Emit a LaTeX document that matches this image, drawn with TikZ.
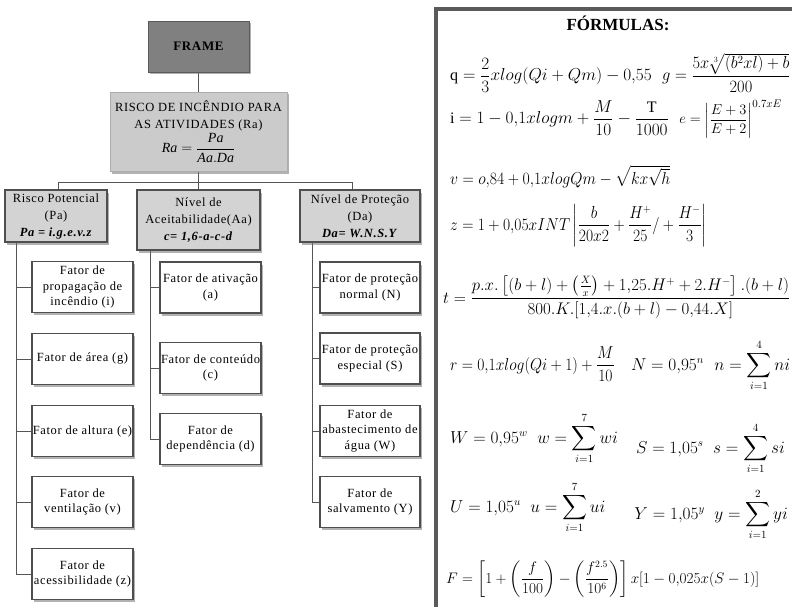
\documentclass[tikz,border=0pt]{standalone}
\usepackage{amsmath}
\usepackage{graphicx}
\usepackage{fontspec}
\setmainfont{Liberation Serif}
\newfontfamily\dfont{Liberation Serif}[LetterSpace=5]
\usetikzlibrary{shadows}
\pgfdeclarelayer{background}
\pgfsetlayers{background,main}
\definecolor{framefill}{HTML}{808080}
\definecolor{topfill}{HTML}{CBCBCB}
\definecolor{lvlfill}{HTML}{D3D3D3}
\definecolor{edgegray}{HTML}{4F4F4F}
\definecolor{linegray}{HTML}{555555}
\definecolor{boxgray}{HTML}{5A5A5A}
\tikzset{
  shad/.style={drop shadow={shadow xshift=2pt, shadow yshift=-2.5pt, fill=black!55, opacity=0.55}},
  framebox/.style={shad, fill=framefill, draw=framefill!70!black, line width=0.6pt, minimum width=101pt, minimum height=51pt, inner sep=0pt, font=\dfont\fontsize{13}{15}\selectfont\bfseries},
  topbox/.style={shad, fill=topfill, draw=topfill!85!black, line width=0.6pt, minimum width=177pt, minimum height=79pt, inner sep=0pt, align=center, font=\dfont\fontsize{12.5}{17.5}\selectfont},
  lvlbox/.style={shad, fill=lvlfill, draw=edgegray, line width=1.1pt, inner sep=0pt, align=center, font=\dfont\fontsize{12.5}{17}\selectfont},
  leafbox/.style={shad, fill=white, draw=edgegray, line width=1.1pt, minimum height=51pt, inner sep=0pt, align=center, font=\dfont\fontsize{12.5}{15.5}\selectfont},
  conn/.style={draw=linegray, line width=0.9pt},
  fm/.style={inner sep=0pt, anchor=base west, font=\fontsize{16}{19}\selectfont},
}
\begin{document}
\begin{tikzpicture}[x=1pt,y=-1pt]
\useasboundingbox (0,0) rectangle (792,607);

% ---- left tree ----
\node[framebox] (frame) at (198.5,46.5) {FRAME};
\node[topbox] (risco) at (198.5,131.5) {RISCO DE INCÊNDIO PARA\\AS ATIVIDADES (Ra)\\[1pt]{\fontsize{14}{16}\selectfont$\mathit{Ra} = \dfrac{\mathit{Pa}}{\mathit{Aa.Da}}$}};

\node[lvlbox, minimum width=102pt, minimum height=52pt] (pa) at (56,216) {Risco Potencial\\(Pa)\\\textbf{\textit{Pa = i.g.e.v.z}}};
\node[lvlbox, minimum width=123pt, minimum height=60pt] (aa) at (198.5,220) {Nível de\\Aceitabilidade(Aa)\\\textbf{\textit{c= 1,6-a-c-d}}};
\node[lvlbox, minimum width=120pt, minimum height=52pt] (da) at (360,216) {Nível de Proteção\\(Da)\\\textbf{\textit{Da= W.N.S.Y}}};

\node[leafbox, minimum width=101pt] (li) at (82.5,287) {Fator de\\propagação de\\incêndio (i)};
\node[leafbox, minimum width=101pt] (lg) at (82.5,359) {Fator de área (g)};
\node[leafbox, minimum width=101pt] (le) at (82.5,431) {Fator de altura (e)};
\node[leafbox, minimum width=101pt] (lv) at (82.5,502) {Fator de\\ventilação (v)};
\node[leafbox, minimum width=101pt] (lz) at (82.5,574) {Fator de\\acessibilidade (z)};

\node[leafbox, minimum width=101pt] (ma) at (210.5,287.5) {Fator de ativação\\(a)};
\node[leafbox, minimum width=101pt] (mc) at (210.5,368) {Fator de conteúdo\\(c)};
\node[leafbox, minimum width=101pt] (md) at (210.5,439) {Fator de\\dependência (d)};

\node[leafbox, minimum width=100pt] (rn) at (370,287.5) {Fator de proteção\\normal (N)};
\node[leafbox, minimum width=100pt] (rs) at (370,358.5) {Fator de proteção\\especial (S)};
\node[leafbox, minimum width=100pt] (rw) at (370,431) {Fator de\\abastecimento de\\água (W)};
\node[leafbox, minimum width=100pt] (ry) at (370,502) {Fator de\\salvamento (Y)};

\coordinate (hl) at (58,182);
\coordinate (hr) at (352,182);
\coordinate (tl) at (16,0);
\coordinate (tm) at (150,0);
\coordinate (tr) at (312,0);

\begin{pgfonlayer}{background}
\fill[white] (0,0) rectangle (792,607);
\draw[conn] (frame) -- (risco);
\draw[conn] (risco.south) -- (aa.north);
\draw[conn] (hl) -- (hr);
\draw[conn] (hl) -- (hl |- pa.north);
\draw[conn] (hr) -- (hr |- da.north);
\foreach \n in {li,lg,le,lv,lz} \draw[conn] (pa.south -| tl) |- (\n.west);
\foreach \n in {ma,mc,md} \draw[conn] (aa.south -| tm) |- (\n.west);
\foreach \n in {rn,rs,rw,ry} \draw[conn] (da.south -| tr) |- (\n.west);
\end{pgfonlayer}

% ---- formulas panel ----
\draw[draw=boxgray, line width=3.5pt] (436,9) rectangle (812,625);
\node[font=\fontsize{17}{19}\selectfont\bfseries] (title) at (618,23) {FÓRMULAS:};

\node[fm] (fq) at (450,81) {$\mathrm{q} = \dfrac{2}{3}xlog(Qi+Qm) - 0{,}55$};
\node[fm] (fg) at ([xshift=10pt]fq.base east) {\scalebox{0.95}[1]{$g = \dfrac{5x\sqrt[3]{(b^2xl)+b}}{200}$}};
\node[fm] (fi) at (450,124) {$\mathrm{i} = 1 - 0{,}1xlogm + \dfrac{M}{10} - \dfrac{\mathrm{T}}{1000}$};
\node[fm, font=\fontsize{15}{18}\selectfont] (fe) at ([xshift=10pt]fi.base east) {$e = \left|\dfrac{E+3}{E+2}\right|^{0.7xE}$};
\node[fm] (fv) at (450,184) {\scalebox{0.91}[1]{$v = o{,}84 + 0{,}1xlogQm - \sqrt{kx\sqrt{h}}$}};
\node[fm] (fz) at (450,230) {\scalebox{0.9}[1]{$z = 1 + 0{,}05xINT\left|\dfrac{b}{20x2} + \dfrac{H^{+}}{25}/+\dfrac{H^{-}}{3}\right|$}};
\node[fm] (ft) at (443,303) {\resizebox{347pt}{!}{$t = \dfrac{p.x.\left[(b+l)+\left(\frac{X}{x}\right)+1{,}25.H^{+}+2.H^{-}\right].(b+l)}{800.K.[1{,}4.x.(b+l)-0{,}44.X]}$}};
\node[fm] (fr) at (450,370) {\scalebox{0.9}[1]{$r = 0{,}1xlog(Qi+1)+\dfrac{M}{10}$}};
\node[fm] (fN) at ([xshift=16pt]fr.base east) {$N = 0{,}95^{n}$};
\node[fm] (fn) at ([xshift=10pt]fN.base east) {$n = \displaystyle\sum_{i=1}^{4} ni$};
\node[fm] (fW) at (450,443) {$W = 0{,}95^{w}\;\; w = \displaystyle\sum_{i=1}^{7} wi$};
\node[fm, anchor=base east] (fS) at (785,453) {$S = 1{,}05^{s}\;\; s = \displaystyle\sum_{i=1}^{4} si$};
\node[fm] (fU) at (450,512) {$U = 1{,}05^{u}\;\; u = \displaystyle\sum_{i=1}^{7} ui$};
\node[fm, anchor=base east] (fY) at (788,519) {$Y = 1{,}05^{y}\;\; y = \displaystyle\sum_{i=1}^{2} yi$};
\node[fm] (fF) at (446,583) {\resizebox{313pt}{!}{$F = \left[1+\left(\dfrac{f}{100}\right)-\left(\dfrac{f^{2.5}}{10^{6}}\right)\right]x[1-0{,}025x(S-1)]$}};
\end{tikzpicture}
\end{document}
